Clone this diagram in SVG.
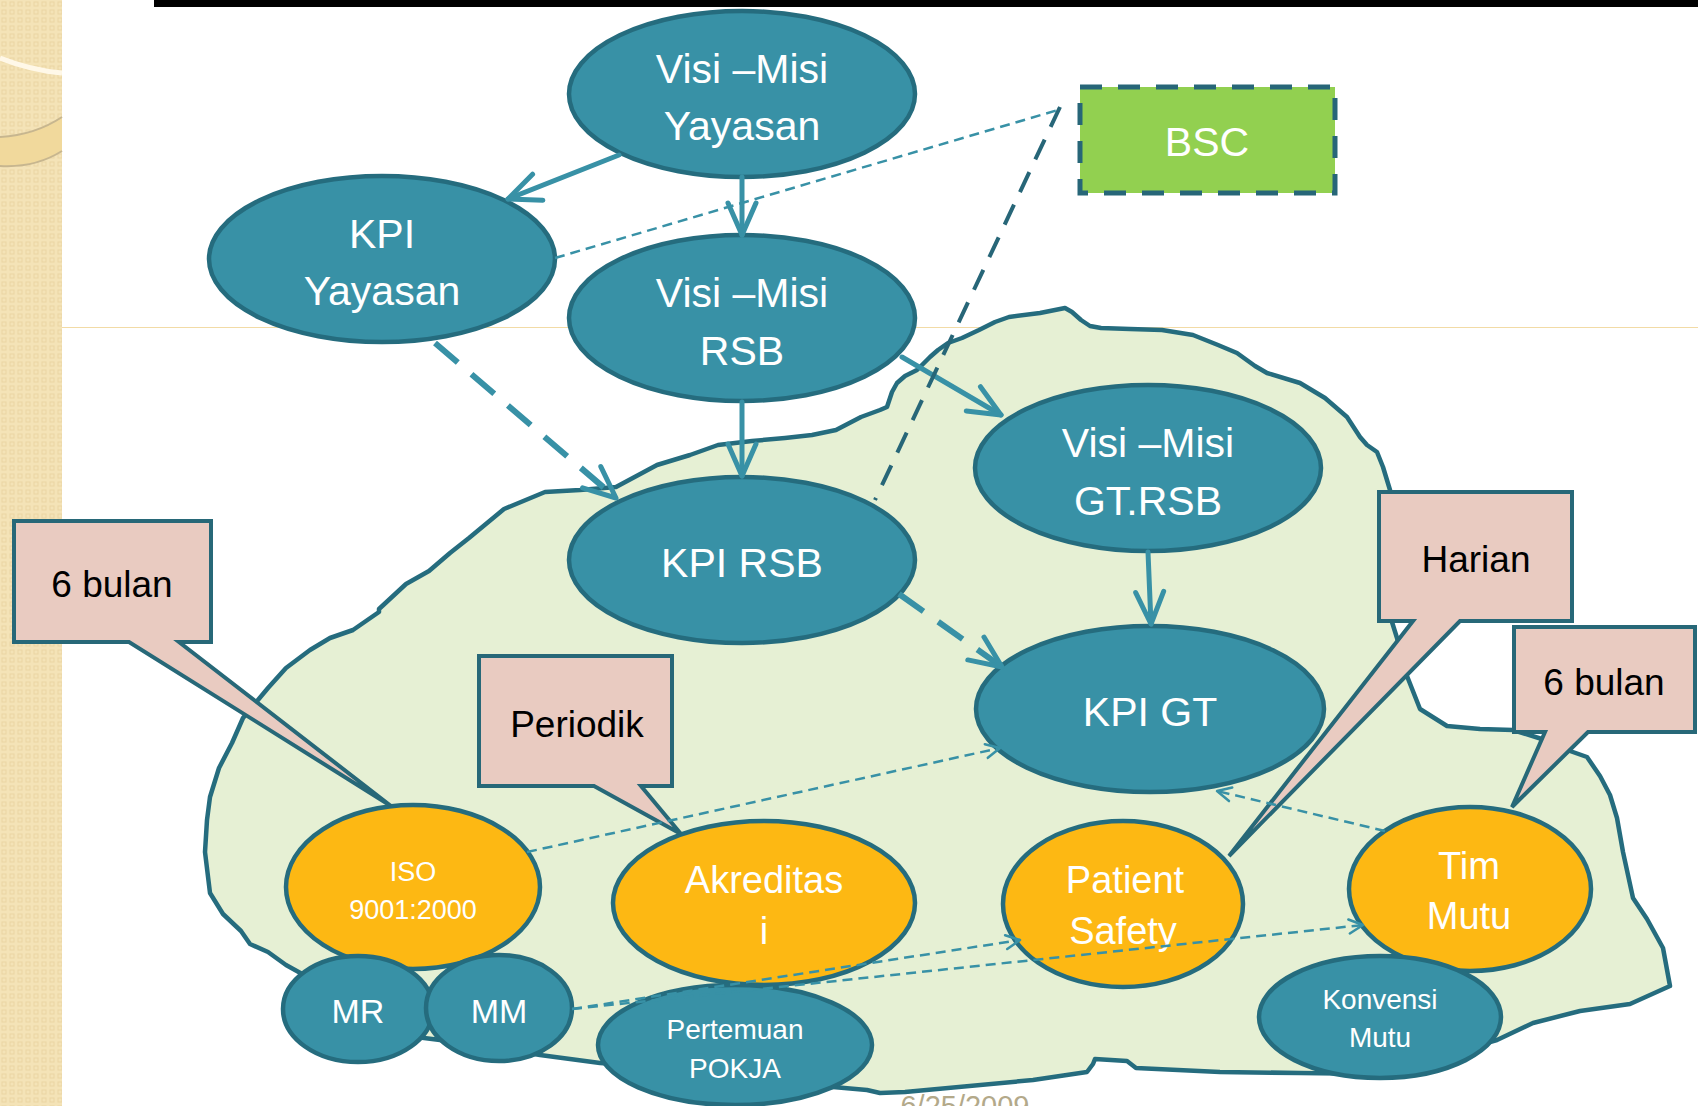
<svg xmlns="http://www.w3.org/2000/svg" width="1698" height="1106" viewBox="0 0 1698 1106">
<style>
.el{fill:#3891A6;stroke:#256C7E;stroke-width:4.5}
.or{fill:#FDB813;stroke:#256C7E;stroke-width:4.5}
.tw{font-family:"Liberation Sans",Arial,sans-serif;fill:#FFFFFF;text-anchor:middle}
.big{font-size:41px}
.mid{font-size:38px}
.sm{font-size:28px}
.co{fill:#E9CBC1;stroke:#276878;stroke-width:4;stroke-linejoin:miter}
.ct{font-family:"Liberation Sans",Arial,sans-serif;fill:#000000;text-anchor:middle;font-size:37px}
.solid{fill:none;stroke:#3891A6;stroke-width:5;stroke-linecap:round}
.tdash{fill:none;stroke:#3891A6;stroke-width:6;stroke-dasharray:30 18}
.thin{fill:none;stroke:#3891A6;stroke-width:2.5;stroke-dasharray:10 6}
</style>
<defs>
<pattern id="chk" width="8" height="8" patternUnits="userSpaceOnUse">
<rect width="8" height="8" fill="#F4E3B7"/>
<rect x="2" y="2" width="4" height="4" fill="none" stroke="#EBD5A3" stroke-width="1"/>
</pattern>
<marker id="ah" markerUnits="userSpaceOnUse" orient="auto" refX="0" refY="0" overflow="visible">
<path d="M-32,-14 L0,0 L-32,14" fill="none" stroke="#3891A6" stroke-width="5" stroke-linecap="round" stroke-linejoin="round"/>
</marker>
<marker id="ahs" markerUnits="userSpaceOnUse" orient="auto" refX="0" refY="0" overflow="visible">
<path d="M-14,-7 L0,0 L-14,7" fill="none" stroke="#3891A6" stroke-width="2.5" stroke-linecap="round" stroke-linejoin="round"/>
</marker>
</defs>

<g id="background">
<rect x="0" y="0" width="1698" height="1106" fill="#FFFFFF"/>
<rect x="0" y="0" width="62" height="1106" fill="url(#chk)"/>
<path d="M0,58 Q30,70 62,73" fill="none" stroke="#FFF8E8" stroke-width="5"/>
<path d="M0,137 Q35,135 62,117 L62,151 Q35,168 0,166 Z" fill="#F1D99C"/>
<path d="M0,137 Q35,135 62,117 M62,151 Q35,168 0,166" fill="none" stroke="#C7B68F" stroke-width="2"/>
<rect x="154" y="0" width="1544" height="7" fill="#000000"/>
<line x1="62" y1="327.5" x2="1698" y2="327.5" stroke="#F2DBA6" stroke-width="1.2"/>
<text x="965" y="1116" font-family="Liberation Sans, Arial, sans-serif" font-size="29" fill="#B3A98A" text-anchor="middle">6/25/2009</text>
</g>

<g id="blob">
<path d="M616,487 L657,465 L690,455 L718,445 L752,441 L785,438 L812,435 L836,430 L861,417 L880,410 L887,407 L892,392 L897,383 L905,376 L917,370 L930,357 L938,350 L948,343 L962,338 L979,330 L995,322 L1009,317 L1040,313 L1065,308 L1072,312 L1081,320 L1090,326 L1101,328 L1130,329 L1162,330 L1193,335 L1218,345 L1237,353 L1255,366 L1267,373 L1300,383 L1325,398 L1347,417 L1360,437 L1367,445 L1377,452 L1383,467 L1390,490 L1392,530 L1392,622 L1397,638 L1407,676 L1420,709 L1447,726 L1480,729 L1513,730 L1545,740 L1570,751 L1587,757 L1600,776 L1610,795 L1617,818 L1623,852 L1633,898 L1647,919 L1663,948 L1670,986 L1630,1004 L1580,1011 L1533,1023 L1497,1040 L1420,1062 L1380,1074 L1300,1073 L1220,1072 L1136,1068 L1127,1061 L1095,1059 L1093,1064 L1087,1072 L1033,1080 L905,1092 L880,1093 L867,1090 L833,1087 L780,1080 L700,1070 L600,1063 L540,1055 L480,1045 L400,1035 L330,1010 L304,975 L286,965 L268,952 L250,944 L241,931 L223,914 L210,893 L205,852 L207,820 L210,797 L219,768 L232,743 L243,718 L268,688 L286,668 L310,650 L330,638 L353,630 L379,612 L379,609 L406,584 L429,571 L450,553 L469,538 L504,509 L545,492 L580,490 Z" fill="#E6F0D4" stroke="#256C7E" stroke-width="4.5" stroke-linejoin="round"/>
</g>

<g id="node-bsc">
<rect x="1080" y="87" width="255" height="106" fill="#92D050" stroke="#276678" stroke-width="5" stroke-dasharray="22 16"/>
<text class="tw big" x="1207" y="156">BSC</text>
</g>
<g id="node-visi-misi-yayasan">
<ellipse class="el" cx="742" cy="94" rx="173" ry="83"/>
<text class="tw big" x="742" y="83">Visi –Misi</text>
<text class="tw big" x="742" y="140">Yayasan</text>
</g>
<g id="node-kpi-yayasan">
<ellipse class="el" cx="382" cy="259" rx="173" ry="83"/>
<text class="tw big" x="382" y="248">KPI</text>
<text class="tw big" x="382" y="305">Yayasan</text>
</g>
<g id="node-visi-misi-rsb">
<ellipse class="el" cx="742" cy="318" rx="173" ry="83"/>
<text class="tw big" x="742" y="307">Visi –Misi</text>
<text class="tw big" x="742" y="365">RSB</text>
</g>
<g id="node-kpi-rsb">
<ellipse class="el" cx="742" cy="560" rx="173" ry="83"/>
<text class="tw big" x="742" y="577">KPI RSB</text>
</g>
<g id="node-visi-misi-gt-rsb">
<ellipse class="el" cx="1148" cy="468" rx="173" ry="83"/>
<text class="tw big" x="1148" y="457">Visi –Misi</text>
<text class="tw big" x="1148" y="515">GT.RSB</text>
</g>
<g id="node-kpi-gt">
<ellipse class="el" cx="1150" cy="709" rx="174" ry="83"/>
<text class="tw big" x="1150" y="726">KPI GT</text>
</g>
<g id="node-iso">
<ellipse class="or" cx="413" cy="887" rx="127" ry="82"/>
<text class="tw" font-size="27" x="413" y="881">ISO</text>
<text class="tw" font-size="27" x="413" y="919">9001:2000</text>
</g>
<g id="node-akreditasi">
<ellipse class="or" cx="764" cy="903" rx="151" ry="82"/>
<text class="tw mid" x="764" y="893">Akreditas</text>
<text class="tw mid" x="764" y="944">i</text>
</g>
<g id="node-patient-safety">
<ellipse class="or" cx="1123" cy="904" rx="120" ry="83"/>
<text class="tw mid" x="1125" y="893">Patient</text>
<text class="tw mid" x="1123" y="944">Safety</text>
</g>
<g id="node-tim-mutu">
<ellipse class="or" cx="1470" cy="889" rx="121" ry="82"/>
<text class="tw mid" x="1469" y="879">Tim</text>
<text class="tw mid" x="1469" y="929">Mutu</text>
</g>
<g id="node-mr">
<ellipse class="el" cx="358" cy="1009" rx="75" ry="53"/>
<text class="tw" font-size="34" x="358" y="1023">MR</text>
</g>
<g id="node-mm">
<ellipse class="el" cx="499" cy="1008" rx="73" ry="53"/>
<text class="tw" font-size="34" x="499" y="1023">MM</text>
</g>
<g id="node-pertemuan-pokja">
<ellipse class="el" cx="735" cy="1045" rx="137" ry="60"/>
<text class="tw sm" x="735" y="1039">Pertemuan</text>
<text class="tw sm" x="735" y="1078">POKJA</text>
</g>
<g id="node-konvensi-mutu">
<ellipse class="el" cx="1380" cy="1017" rx="121" ry="61"/>
<text class="tw sm" x="1380" y="1009">Konvensi</text>
<text class="tw sm" x="1380" y="1047">Mutu</text>
</g>

<g id="callout-6bulan-left">
<path class="co" d="M14,521 H211 V642 H179 L391,806 L129,642 H14 Z"/>
<text class="ct" x="112" y="597">6 bulan</text>
</g>
<g id="callout-periodik">
<path class="co" d="M479,656 H672 V786 H641 L681,834 L594,786 H479 Z"/>
<text class="ct" x="577" y="737">Periodik</text>
</g>
<g id="callout-harian">
<path class="co" d="M1379,492 H1572 V621 H1460 L1229,856 L1413,621 H1379 Z"/>
<text class="ct" x="1476" y="572">Harian</text>
</g>
<g id="callout-6bulan-right">
<path class="co" d="M1514,627 H1695 V732 H1588 L1512,807 L1545,732 H1514 Z"/>
<text class="ct" x="1604" y="695">6 bulan</text>
</g>

<g id="connectors">
<line class="solid" x1="619" y1="155" x2="508" y2="199" marker-end="url(#ah)"/>
<line class="solid" x1="742" y1="177" x2="742" y2="235" marker-end="url(#ah)"/>
<line class="solid" x1="742" y1="402" x2="742" y2="476" marker-end="url(#ah)"/>
<line class="solid" x1="902" y1="357" x2="1001" y2="415" marker-end="url(#ah)"/>
<line class="solid" x1="1148" y1="552" x2="1151" y2="624" marker-end="url(#ah)"/>
<line class="tdash" x1="435" y1="343" x2="616" y2="498" marker-end="url(#ah)"/>
<line class="tdash" x1="899" y1="594" x2="1002" y2="667" marker-end="url(#ah)"/>
<line x1="1060" y1="107" x2="875" y2="500" fill="none" stroke="#276678" stroke-width="4" stroke-dasharray="22 14"/>
<line class="thin" x1="555" y1="258" x2="1058" y2="110"/>
<line class="thin" x1="527" y1="852" x2="1000" y2="748" marker-end="url(#ahs)"/>
<line class="thin" x1="1385" y1="831" x2="1217" y2="791" marker-end="url(#ahs)"/>
<line class="thin" x1="572" y1="1009" x2="1020" y2="940" marker-end="url(#ahs)"/>
<line class="thin" x1="572" y1="1009" x2="1363" y2="925" marker-end="url(#ahs)"/>
</g>
</svg>
